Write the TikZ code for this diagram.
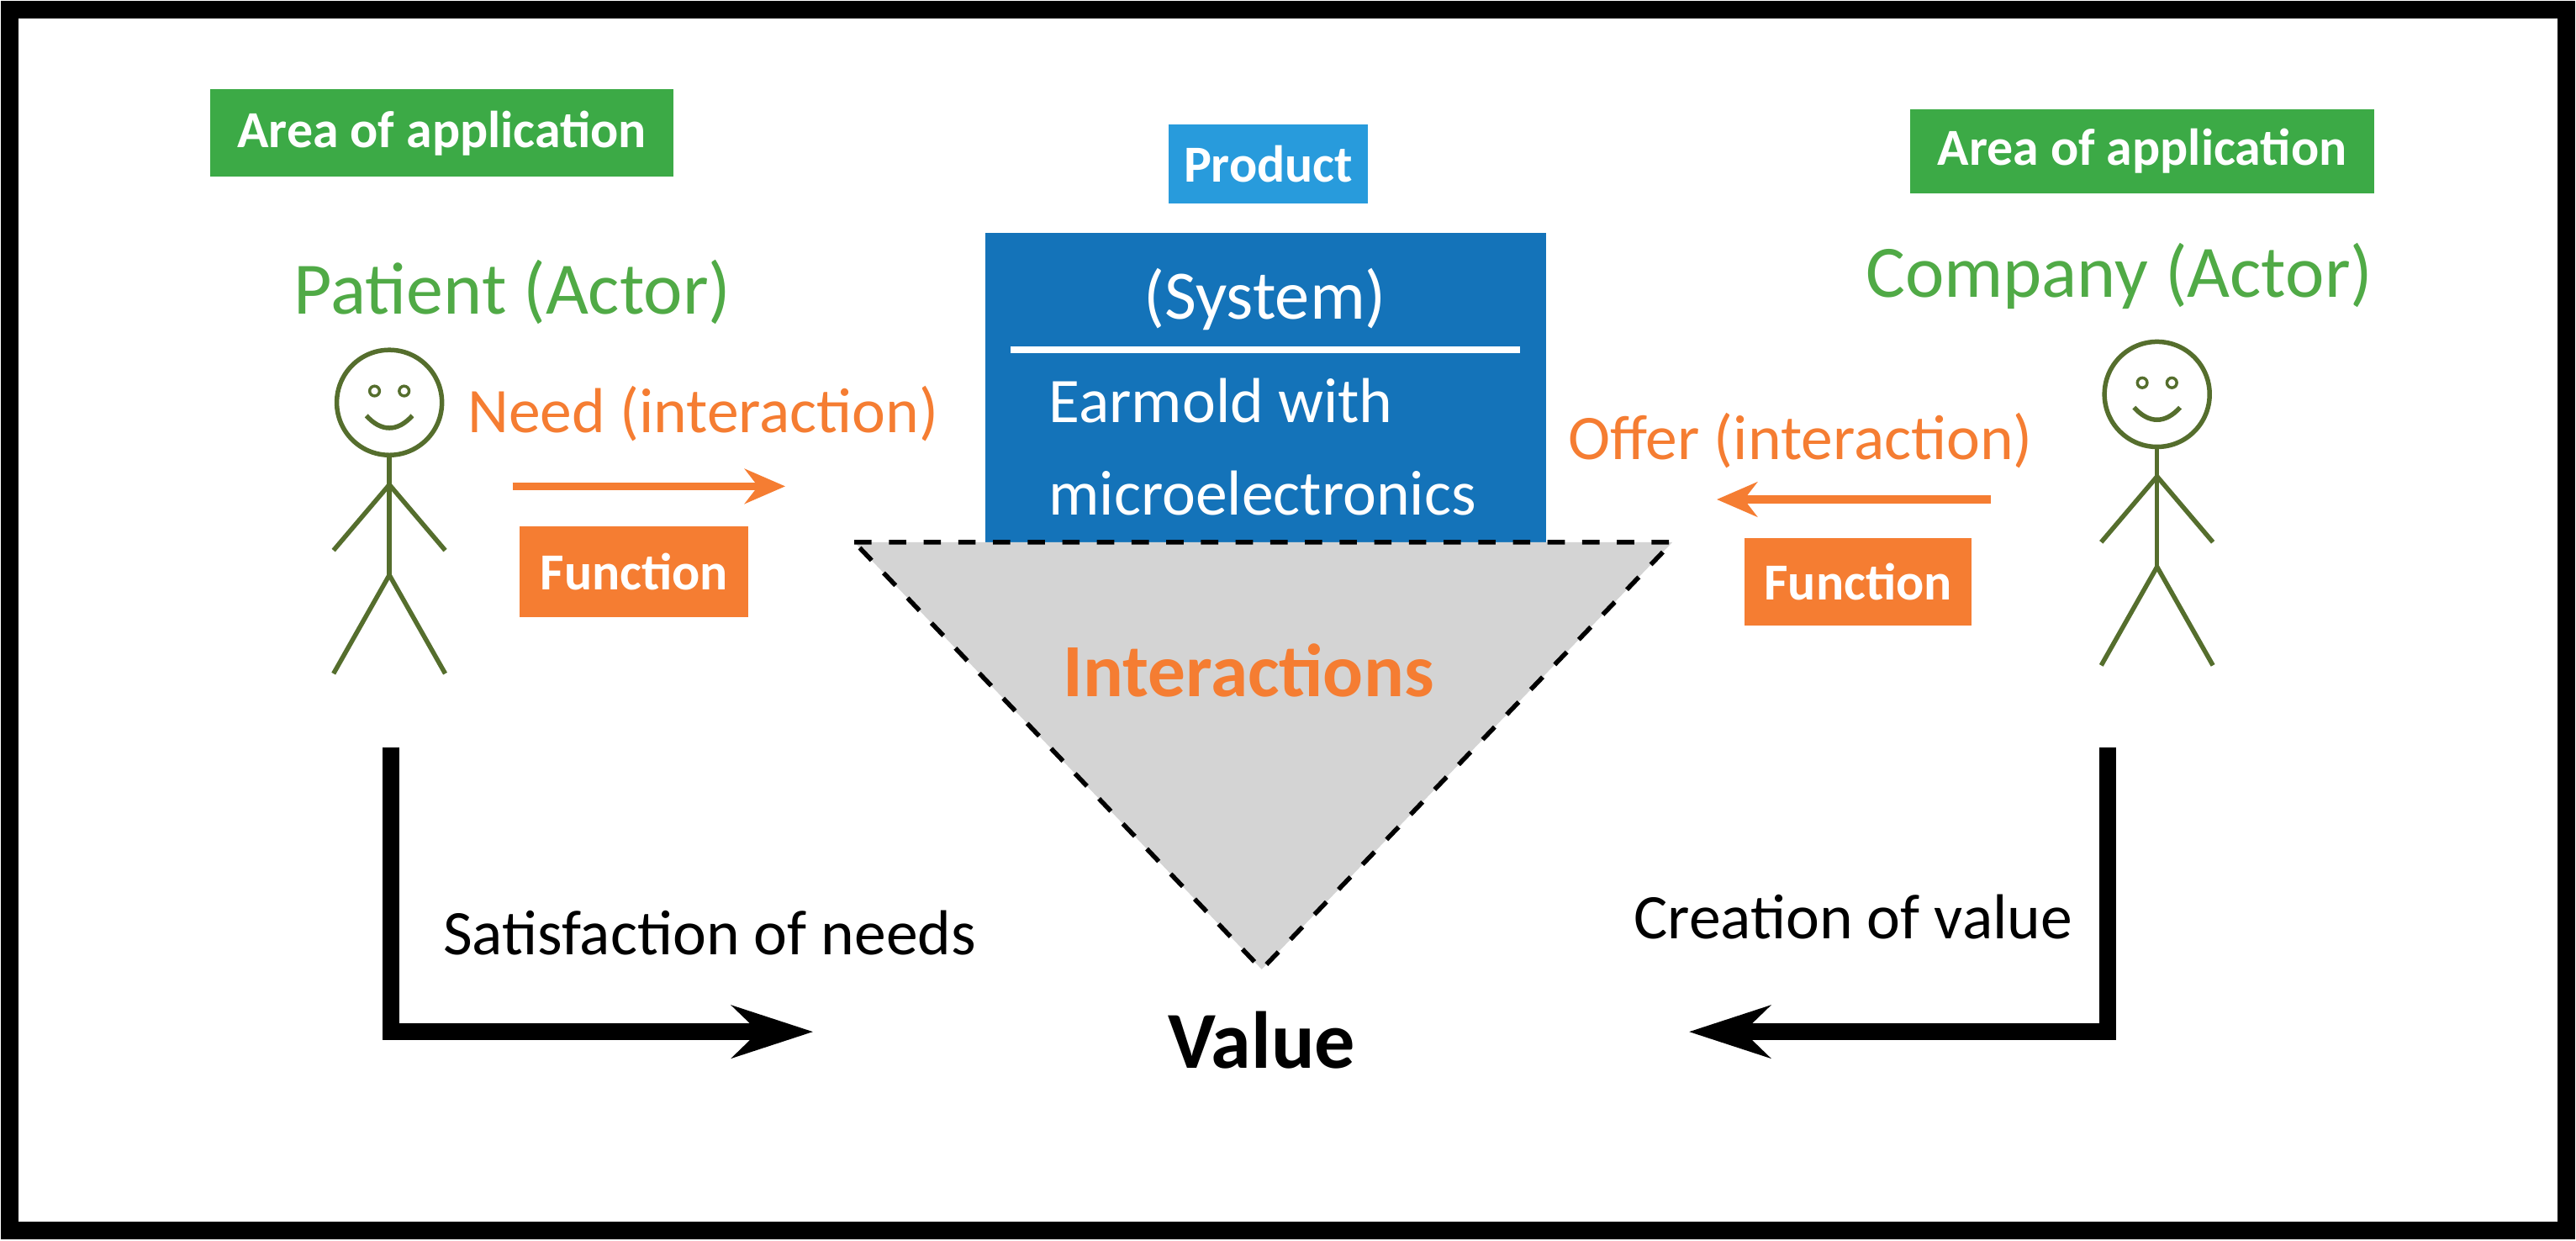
\documentclass[tikz,border=0pt]{standalone}
\usepackage{fontspec}
\setmainfont{Carlito}
\usetikzlibrary{arrows.meta}
\definecolor{actgreen}{RGB}{80,170,70}
\definecolor{boxgreen}{RGB}{60,170,70}
\definecolor{sysblue}{RGB}{20,115,185}
\definecolor{prodblue}{RGB}{40,155,220}
\definecolor{orng}{RGB}{245,125,50}
\definecolor{olive}{RGB}{85,110,45}
\tikzset{
  tag/.style={fill=#1, text=white, font=\bfseries\fontsize{9}{10}\selectfont, inner sep=0pt},
  actor/.style={text=actgreen, font=\fontsize{12.8}{14}\selectfont},
  stick/.style={draw=olive, line width=0.8pt},
  flow/.style={draw=orng, line width=1.4pt, -{Stealth[length=7pt,width=6pt]}},
  path/.style={line width=3pt, -{Stealth[length=14pt,width=9pt]}}
}
\begin{document}
\begin{tikzpicture}[x=0.01cm, y=-0.01cm]
\useasboundingbox (0,0) rectangle (1568,755);
\draw[line width=0.11cm] (6,6) rectangle (1562,749);
% tags
\node[tag=boxgreen, minimum width=2.82cm, minimum height=0.53cm] (areaL) at (269,81) {Area of application};
\node[tag=boxgreen, minimum width=2.82cm, minimum height=0.51cm] (areaR) at (1304,92) {Area of application};
\node[tag=prodblue, minimum width=1.21cm, minimum height=0.48cm] (prod) at (772,100) {Product};
% system
\fill[sysblue] (600,142) rectangle (941,330);
\node[text=white, font=\fontsize{12}{14}\selectfont] (sys) at (770,182) {(System)};
\draw[white, line width=1.2pt] (615,213) -- (925,213);
\node[text=white, font=\fontsize{11}{14}\selectfont, anchor=west, align=left] (earmold) at (626,272) {Earmold with\\[2pt]microelectronics};
% triangle
\draw[dashed, fill=black!17, line width=0.8pt] (520,330) -- (1018,330) -- (768,590) -- cycle;
\node[text=orng, font=\bfseries\fontsize{13}{15}\selectfont] (inter) at (760,408) {Interactions};
% actors
\node[actor] (patient) at (312,178) {Patient (Actor)};
\node[actor] (company) at (1290,168) {Company (Actor)};
\foreach \cx/\cy in {237/245, 1313/240} {
  \draw[stick] (\cx,\cy) circle (32);
  \draw[stick, line width=0.5pt] (\cx-9,\cy-7) circle (3) (\cx+9,\cy-7) circle (3);
  \draw[stick] (\cx-14,\cy+8) .. controls (\cx-5,\cy+18) and (\cx+5,\cy+18) .. (\cx+14,\cy+8);
  \draw[stick] (\cx,\cy+32) -- (\cx,\cy+105);
  \draw[stick] (\cx-34,\cy+90) -- (\cx,\cy+50) -- (\cx+34,\cy+90);
  \draw[stick] (\cx-34,\cy+165) -- (\cx,\cy+105) -- (\cx+34,\cy+165);
}
% interactions
\node[text=orng, font=\fontsize{11}{13}\selectfont] (need) at (428,252) {Need (interaction)};
\coordinate (needA) at (312,296); \coordinate (needB) at (478,296);
\draw[flow] (needA) -- (needB);
\node[tag=orng, minimum width=1.39cm, minimum height=0.55cm] (funcL) at (386,348) {Function};
\node[text=orng, font=\fontsize{11}{13}\selectfont] (offer) at (1096,268) {Offer (interaction)};
\coordinate (offA) at (1212,304); \coordinate (offB) at (1045,304);
\draw[flow] (offA) -- (offB);
\node[tag=orng, minimum width=1.38cm, minimum height=0.53cm] (funcR) at (1131,354) {Function};
% value
\node[font=\bfseries\fontsize{14}{16}\selectfont] (value) at (768,633) {Value};
\node[font=\fontsize{11}{13}\selectfont] (satis) at (432,568) {Satisfaction of needs};
\node[font=\fontsize{11}{13}\selectfont] (creat) at (1128,558) {Creation of value};
\coordinate (pL) at (238,455); \coordinate (pR) at (1283,455);
\coordinate (eL) at (495,628); \coordinate (eR) at (1028,628);
\draw[path] (pL) |- (eL);
\draw[path] (pR) |- (eR);
\end{tikzpicture}
\end{document}
